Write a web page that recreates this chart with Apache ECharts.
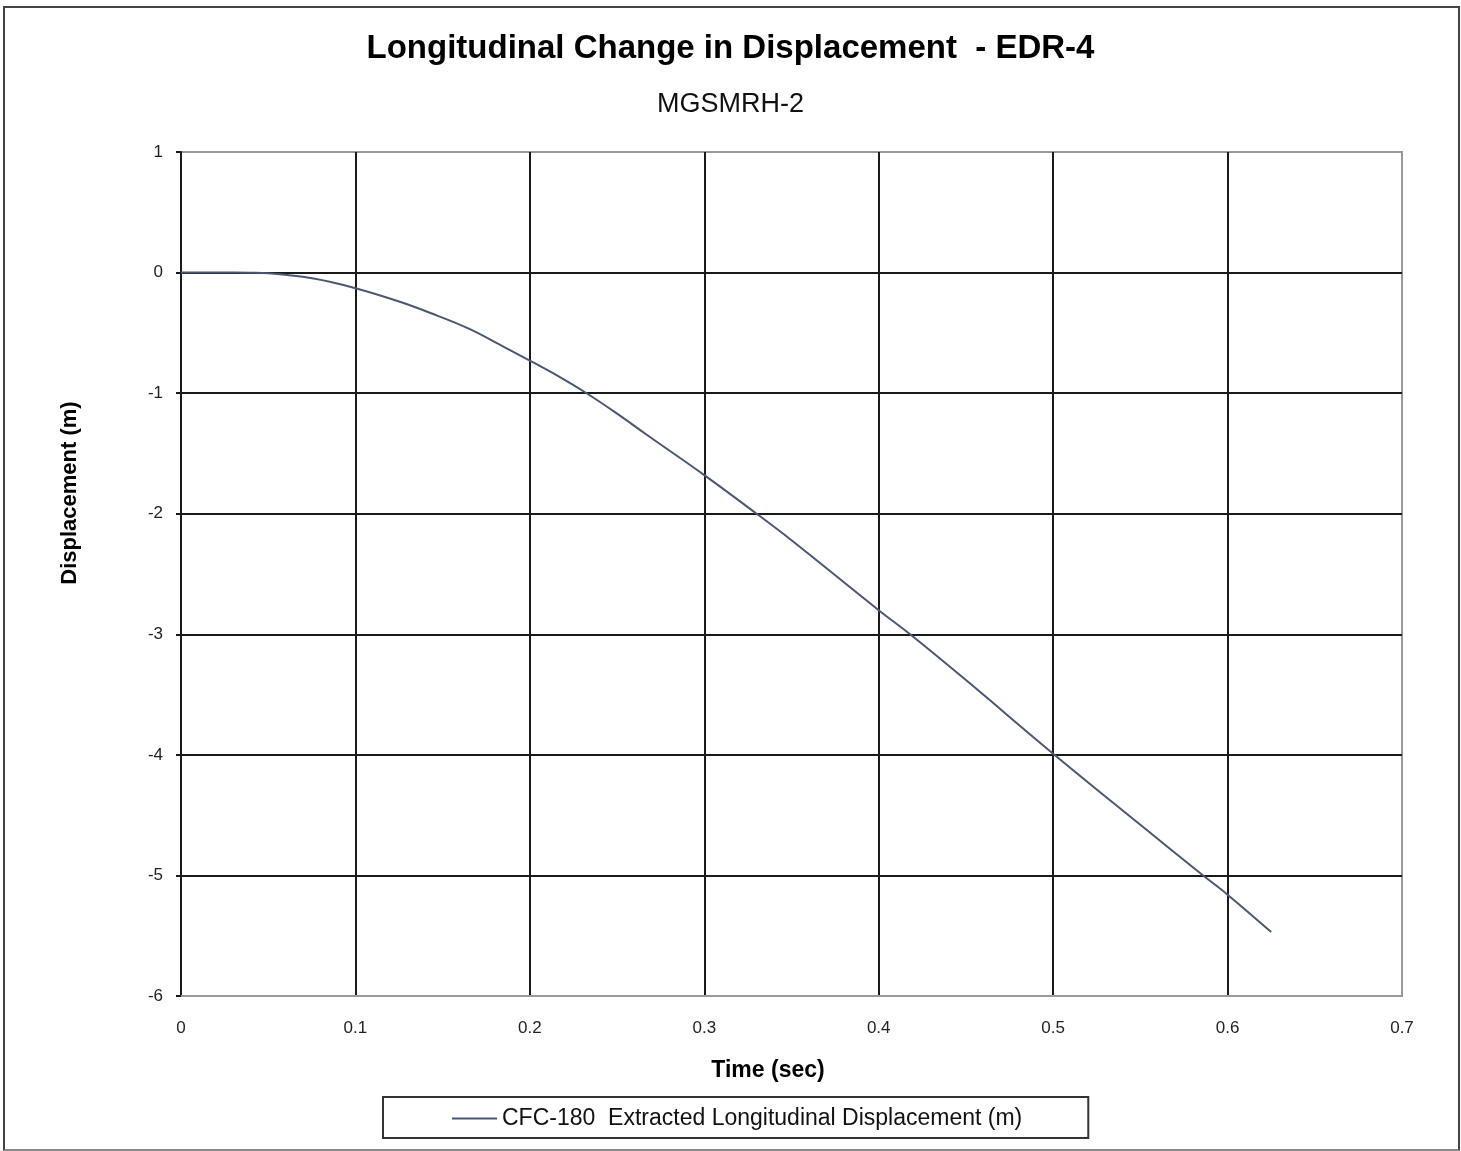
<!DOCTYPE html>
<html>
<head>
<meta charset="utf-8">
<title>Longitudinal Change in Displacement - EDR-4</title>
<script src="https://cdn.jsdelivr.net/npm/echarts@6/dist/echarts.min.js"></script>
<style>
  html, body { margin: 0; padding: 0; background: #fff; }
  #frame { position: absolute; left: 3px; top: 6px; width: 1453px; height: 1141px; border: 2px solid #444; border-bottom-color: #888; }
  #chart { position: absolute; left: 0; top: 0; width: 1461px; height: 1151px; }
</style>
</head>
<body>
<div id="frame"></div>
<div id="chart"></div>
<script>
// time (sec) and displacement (m)
var timeSec = [0, 0.02, 0.04, 0.05, 0.076, 0.1, 0.125, 0.143, 0.165, 0.183, 0.2, 0.217, 0.233, 0.25, 0.267, 0.3, 0.33, 0.35, 0.4, 0.418, 0.45, 0.5, 0.55, 0.586, 0.6, 0.625];
var dispM   = [0, 0, -0.002, -0.006, -0.05, -0.13, -0.24, -0.335, -0.465, -0.6, -0.73, -0.865, -1.005, -1.17, -1.345, -1.68, -2.0, -2.22, -2.8, -3.0, -3.38, -3.99, -4.58, -5.0, -5.16, -5.47];
var seriesName = 'CFC-180  Extracted Longitudinal Displacement (m)';
var xName = 'Time (sec)';
var yName = 'Displacement (m)';

var points = [];
for (var i = 0; i < timeSec.length; i++) {
  points.push([timeSec[i], dispM[i]]);
}

var fontFam = '"Liberation Sans", Arial, sans-serif';

var myChart = echarts.init(document.getElementById('chart'));
var option = {
  backgroundColor: 'transparent',
  animation: false,
  title: [
    {
      text: 'Longitudinal Change in Displacement  - EDR-4',
      left: 'center', top: 27,
      textStyle: { fontFamily: fontFam, fontSize: 33, fontWeight: 'bold', color: '#000' }
    },
    {
      text: 'MGSMRH-2',
      left: 'center', top: 86,
      textStyle: { fontFamily: fontFam, fontSize: 27, fontWeight: 'normal', color: '#111' }
    }
  ],
  graphic: [
    // axis names sit off-centre in the original, so place them by hand
    {
      type: 'text', x: 768, y: 1071,
      style: { text: xName, align: 'center', verticalAlign: 'middle',
        font: 'bold 23px "Liberation Sans", Arial, sans-serif', fill: '#000' }
    },
    {
      type: 'text', x: 70, y: 493, rotation: Math.PI / 2,
      style: { text: yName, align: 'center', verticalAlign: 'middle',
        font: 'bold 22px "Liberation Sans", Arial, sans-serif', fill: '#000' }
    }
  ],
  grid: {
    left: 181, right: 59, top: 152, bottom: 155,
    show: true, borderColor: '#999', borderWidth: 2
  },
  legend: {
    left: 383, top: 1097,
    padding: [10, 66, 8, 69],
    borderColor: '#333', borderWidth: 2,
    itemWidth: 45, itemHeight: 14, itemGap: 5,
    icon: 'path://M0,0 L45,0 L45,2 L0,2 Z',
    textStyle: { fontFamily: fontFam, fontSize: 23, color: '#111' },
    data: [seriesName]
  },
  xAxis: {
    type: 'value', min: 0, max: 0.7, interval: 0.1,
    axisLine: { show: true, onZero: false, lineStyle: { color: '#999', width: 2 } },
    axisTick: { show: false },
    axisLabel: { margin: 24, fontFamily: fontFam, fontSize: 17, color: '#222',
      formatter: function (v) { return v === 0 ? '0' : String(Math.round(v * 10) / 10); } },
    splitLine: { show: true, showMinLine: false, showMaxLine: false, lineStyle: { color: '#1a1a1a', width: 2 } }
  },
  yAxis: {
    type: 'value', min: -6, max: 1, interval: 1,
    axisLine: { show: true, onZero: false, lineStyle: { color: '#1a1a1a', width: 2 } },
    axisTick: { show: true, length: 5, lineStyle: { color: '#1a1a1a', width: 2 } },
    axisLabel: { margin: 18, fontFamily: fontFam, fontSize: 17, color: '#222' },
    splitLine: { show: true, showMinLine: false, showMaxLine: false, lineStyle: { color: '#1a1a1a', width: 2 } }
  },
  series: [
    {
      name: seriesName,
      type: 'line',
      data: points,
      smooth: 0.4,
      showSymbol: false,
      lineStyle: { color: '#4b5673', width: 2 },
      itemStyle: { color: '#4b5673' }
    }
  ]
};
myChart.setOption(option);
</script>
</body>
</html>
